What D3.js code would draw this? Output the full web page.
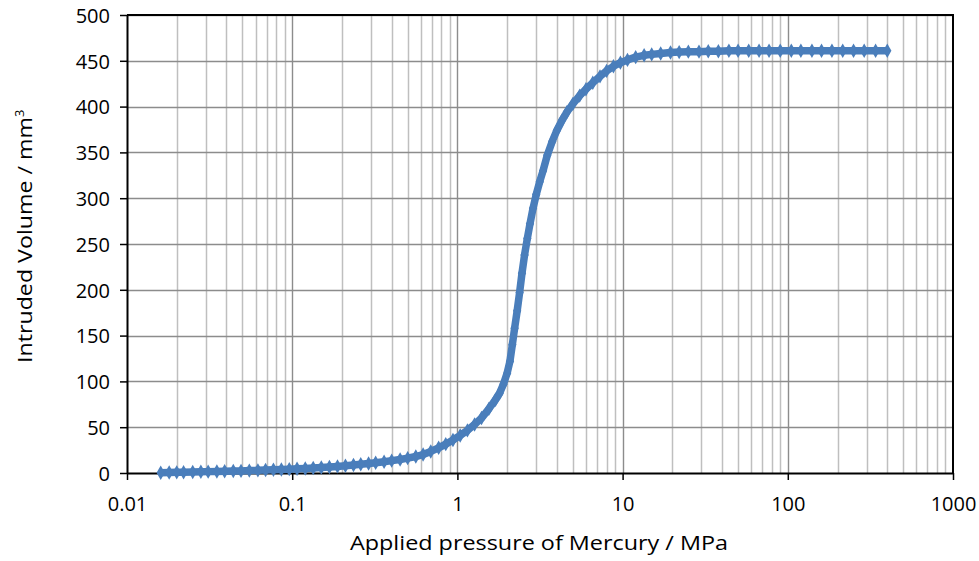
<!DOCTYPE html>
<html><head><meta charset="utf-8">
<script src="https://cdn.jsdelivr.net/npm/d3@7"></script>
<style>body{margin:0;background:#fff}svg{display:block}text{font-family:"Open Sans",sans-serif;fill:#000}</style>
</head><body><svg id="c" width="979" height="561"></svg>
<script>
const pressure = [0.016,0.018,0.020,0.022,0.025,0.028,0.031,0.035,0.039,0.044,0.049,0.055,0.062,0.069,0.077,0.086,0.096,0.107,0.12,0.134,0.15,0.168,0.188,0.21,0.235,0.26,0.29,0.32,0.36,0.40,0.45,0.50,0.56,0.62,0.69,0.77,0.85,0.94,1.04,1.15,1.27,1.40,1.55,1.70,1.80,1.90,2.0,2.08,2.15,2.22,2.30,2.38,2.46,2.55,2.65,2.75,2.87,3.0,3.15,3.3,3.5,3.75,4.0,4.3,4.6,5.0,5.5,6.0,6.6,7.3,8.0,8.8,9.7,10.7,12,13.5,15,17,19.5,22,25,29,33,38,44,50,58,67,77,90,105,120,140,160,185,215,250,290,340,400];
const volume = [0.3,0.5,0.7,0.9,1.1,1.3,1.5,1.7,1.9,2.1,2.3,2.6,2.9,3.2,3.5,3.8,4.2,4.6,5.0,5.5,6.0,6.6,7.2,7.9,8.7,9.5,10.3,11.2,12.3,13.5,14.8,16.2,18.0,20.2,23.5,27.5,31.5,36,41,46.5,53,60,70,80,87,97,109,122,140,158,177,197,218,238,256,272,289,304,318,330,347,362,374,385,394,403,412,419,426,433,439,444,448,451,454,456,457,458,459,459.5,460,460,460.5,460.5,461,461,461,461,461,461,461,461,461,461,461,461,461,461,461,461];
const xTicks = [0.01,0.1,1,10,100,1000];
const xTickLabels = ["0.01","0.1","1","10","100","1000"];
const yTicks = [0,50,100,150,200,250,300,350,400,450,500];
const xTitle = "Applied pressure of Mercury / MPa";
const yTitle = "Intruded Volume / mm";

const svg = d3.select("#c");
const L=127, R=953, T=15, B=473;
const x = d3.scaleLog().domain([0.01,1000]).range([L,R]);
const y = d3.scaleLinear().domain([0,500]).range([B,T]);

// minor vertical gridlines
const minor = [];
for (let d=0.01; d<1000; d*=10) for (let k=2;k<=9;k++) minor.push(+(d*k).toPrecision(3));
svg.append("g").selectAll("line").data(minor).join("line")
  .attr("x1",d=>Math.round(x(d))+0.5).attr("x2",d=>Math.round(x(d))+0.5)
  .attr("y1",T).attr("y2",B).attr("stroke","#bfbfbf").attr("stroke-width",1.5);
// horizontal gridlines
svg.append("g").selectAll("line").data(yTicks.slice(1)).join("line")
  .attr("x1",L).attr("x2",R).attr("y1",d=>Math.round(y(d))+0.5).attr("y2",d=>Math.round(y(d))+0.5)
  .attr("stroke","#8c8c8c").attr("stroke-width",1.4);
// major vertical gridlines
svg.append("g").selectAll("line").data(xTicks.slice(1,-1)).join("line")
  .attr("x1",d=>Math.round(x(d))+0.5).attr("x2",d=>Math.round(x(d))+0.5)
  .attr("y1",T).attr("y2",B).attr("stroke","#8c8c8c").attr("stroke-width",1.4);

// frame top/right
svg.append("line").attr("x1",L).attr("x2",R+1).attr("y1",T).attr("y2",T).attr("stroke","#000").attr("stroke-width",2);
svg.append("line").attr("x1",R).attr("x2",R).attr("y1",T).attr("y2",B).attr("stroke","#000").attr("stroke-width",2);

// axes
const xAxis = svg.append("g").attr("transform",`translate(0,${B})`)
  .call(d3.axisBottom(x).tickValues(xTicks).tickFormat((d,i)=>xTickLabels[i]).tickSize(7).tickSizeOuter(0).tickPadding(17));
const yAxis = svg.append("g").attr("transform",`translate(${L},0)`)
  .call(d3.axisLeft(y).tickValues(yTicks).tickSize(7).tickSizeOuter(0).tickPadding(10));
[xAxis,yAxis].forEach(g=>{
  g.select(".domain").attr("stroke","#000").attr("stroke-width",2);
  g.selectAll(".tick line").attr("stroke","#000").attr("stroke-width",1.5);
  g.selectAll("text").attr("font-size",20).attr("font-family","'Open Sans', sans-serif");
});
yAxis.selectAll("text").attr("dy","0.36em");

// data
const data = pressure.map((p,i)=>({p,v:volume[i]}));
svg.append("path").datum(data)
  .attr("d",d3.line().x(d=>x(d.p)).y(d=>y(d.v)))
  .attr("fill","none").attr("stroke","#4a7ebb").attr("stroke-width",7.5).attr("stroke-linejoin","round");
svg.append("g").selectAll("path").data(data).join("path")
  .attr("transform",d=>`translate(${x(d.p)},${y(d.v)})`)
  .attr("d",d3.symbol(d3.symbolDiamond,60)).attr("fill","#4a7ebb");

// titles
svg.append("text").attr("x",350).attr("y",550).attr("font-size",20.5)
  .attr("textLength",378).attr("lengthAdjust","spacingAndGlyphs").text(xTitle);
const yt = svg.append("text").attr("transform","translate(32,363) rotate(-90)").attr("font-size",20.5);
yt.append("tspan").attr("textLength",246).attr("lengthAdjust","spacingAndGlyphs").text(yTitle);
yt.append("tspan").attr("font-size",13).attr("dy",-8).text("3");
</script></body></html>
